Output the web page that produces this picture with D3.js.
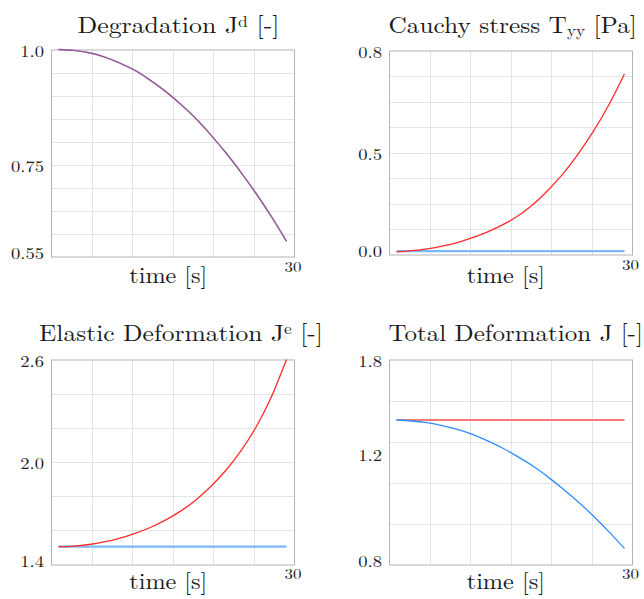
<!DOCTYPE html>
<html>
<head>
<meta charset="utf-8">
<script src="https://cdn.jsdelivr.net/npm/d3@7"></script>
<style>
  html, body { margin: 0; padding: 0; background: #fff; overflow: hidden; }
  svg { display: block; }
</style>
</head>
<body>
<svg id="chart" width="644" height="599"></svg>
<script>
// ---- data -------------------------------------------------------------
const time = [0, 2, 4, 6, 8, 10, 12, 14, 16, 18, 20, 22, 24, 26, 28, 30];

// degradation J^d (both cases follow the same curve)
const degradationRed  = [1.000, 0.998, 0.993, 0.984, 0.971, 0.955, 0.934, 0.910, 0.882, 0.851, 0.815, 0.776, 0.733, 0.687, 0.637, 0.583];
const degradationBlue = [1.000, 0.998, 0.993, 0.984, 0.971, 0.955, 0.934, 0.910, 0.882, 0.851, 0.815, 0.776, 0.733, 0.687, 0.637, 0.583];

// Cauchy stress T_yy [Pa]
const stressRed  = [0.010, 0.015, 0.022, 0.033, 0.047, 0.066, 0.089, 0.117, 0.152, 0.197, 0.254, 0.320, 0.399, 0.488, 0.590, 0.708];
const stressBlue = [0.013, 0.013, 0.013, 0.013, 0.013, 0.013, 0.013, 0.013, 0.013, 0.013, 0.013, 0.013, 0.013, 0.013, 0.013, 0.013];

// elastic deformation J^e
const elasticRed  = [1.505, 1.508, 1.517, 1.532, 1.553, 1.581, 1.615, 1.658, 1.711, 1.775, 1.855, 1.950, 2.065, 2.205, 2.380, 2.600];
const elasticBlue = [1.505, 1.505, 1.505, 1.505, 1.505, 1.505, 1.505, 1.505, 1.505, 1.505, 1.505, 1.505, 1.505, 1.505, 1.505, 1.505];

// total deformation J
const totalRed  = [1.505, 1.505, 1.505, 1.505, 1.505, 1.505, 1.505, 1.505, 1.505, 1.505, 1.505, 1.505, 1.505, 1.505, 1.505, 1.505];
const totalBlue = [1.505, 1.500, 1.492, 1.478, 1.459, 1.435, 1.403, 1.367, 1.325, 1.279, 1.225, 1.166, 1.102, 1.033, 0.958, 0.878];

// axis ranges and tick labels
const degradationRange = [0.55, 1.0];
const stressRange      = [0.0, 0.8];
const elasticRange     = [1.4, 2.6];
const totalRange       = [0.8, 1.8];

const degradationTickAt   = [0.55, 0.75, 1.0];
const degradationTickText = ["0.55", "0.75", "1.0"];
const stressTickAt        = [0.0, 0.4, 0.8];
const stressTickText      = ["0.0", "0.5", "0.8"];
const elasticTickAt       = [1.4, 2.0, 2.6];
const elasticTickText     = ["1.4", "2.0", "2.6"];
const totalTickAt         = [0.8, 1.34, 1.8];
const totalTickText       = ["0.8", "1.2", "1.8"];

const timeEndLabel = "30";
const timeAxisLabel = "time [s]";

// ---- styling ------------------------------------------------------------
const FONT = '"Latin Modern Roman", "Liberation Serif", serif';
const RED = "#ff2b2b";
const BLUE = "#2e8eff";
const RED_FLAT = "#f47a7a";
const BLUE_FLAT = "#7db8f6";

const svg = d3.select("#chart");

const panels = [
  {
    title: [{ t: "Degradation J" }, { t: "d", sup: true }, { t: " [-]" }],
    titleBox: [77.5, 279.5, 33.3],
    box: [51, 294, 49.5, 256.5],
    range: degradationRange, grid: 9,
    tickAt: degradationTickAt, tickText: degradationTickText,
    series: [
      { values: degradationBlue, color: BLUE, width: 1.4, opacity: 1 },
      { values: degradationRed, color: RED, width: 1.4, opacity: 0.55 }
    ],
    xLabel: [129.3, 207.3, 283.3], endLabel: [293, 271.5]
  },
  {
    title: [{ t: "Cauchy stress T" }, { t: "yy", sub: true }, { t: " [Pa]" }],
    titleBox: [388.5, 637, 32.5],
    box: [389, 632, 50.5, 254.5],
    range: stressRange, grid: 8,
    tickAt: stressTickAt, tickText: stressTickText,
    series: [
      { values: stressBlue, color: BLUE_FLAT, width: 2.2, opacity: 1 },
      { values: stressRed, color: RED, width: 1.3, opacity: 1 }
    ],
    xLabel: [466.7, 545, 283.3], endLabel: [630.5, 270]
  },
  {
    title: [{ t: "Elastic Deformation J" }, { t: "e", sup: true }, { t: " [-]" }],
    titleBox: [39, 323, 340.7],
    box: [51, 294, 359.5, 564.5],
    range: elasticRange, grid: 6,
    tickAt: elasticTickAt, tickText: elasticTickText,
    series: [
      { values: elasticBlue, color: BLUE_FLAT, width: 2.2, opacity: 1 },
      { values: elasticRed, color: RED, width: 1.3, opacity: 1 }
    ],
    xLabel: [129.3, 207.3, 589.3], endLabel: [293, 579]
  },
  {
    title: [{ t: "Total Deformation J [-]" }],
    titleBox: [388.5, 643, 340.7],
    box: [389, 632, 359.5, 564.5],
    range: totalRange, grid: 5,
    tickAt: totalTickAt, tickText: totalTickText,
    series: [
      { values: totalRed, color: RED_FLAT, width: 2.2, opacity: 1 },
      { values: totalBlue, color: BLUE, width: 1.3, opacity: 1 }
    ],
    xLabel: [466.7, 545, 589.3], endLabel: [630.5, 578.5]
  }
];

function addText(parent, size) {
  return parent.append("text")
    .style("font-family", FONT)
    .style("white-space", "pre")
    .attr("fill", "#1a1a1a")
    .attr("font-size", size);
}

// place a text at (x, baseline) and stretch it horizontally to span [x0, x1]
function fitText(node, x0, x1, baseline) {
  const w = node.getBBox().width;
  const sx = (x1 - x0) / w;
  d3.select(node).attr("transform", `translate(${x0},${baseline}) scale(${sx},1)`);
}

// horizontal stretch for a given font size so that a sample string gets a set width
function stretchFor(sample, size, width) {
  const probe = addText(svg, size).text(sample);
  const w = probe.node().getBBox().width;
  probe.remove();
  return width / w;
}

const TICK_FS = 16;
const tickStretch = stretchFor("0.75", TICK_FS, 33);
const END_FS = 14;
const endStretch = stretchFor("30", END_FS, 17);

panels.forEach(p => {
  const [left, right, top, bottom] = p.box;
  const g = svg.append("g");

  const x = d3.scaleLinear().domain([time[0], time[time.length - 1]]).range([left + 7.5, right - 7.5]);
  const y = d3.scaleLinear().domain(p.range).range([bottom, top]);
  const xGrid = d3.scaleLinear().domain([0, 6]).range([left, right]);
  const yGrid = d3.scaleLinear().domain([0, p.grid]).range([bottom, top]);

  // grid
  g.append("g").selectAll("line").data(d3.range(1, 6)).join("line")
    .attr("x1", d => Math.round(xGrid(d)) + 0.5).attr("x2", d => Math.round(xGrid(d)) + 0.5)
    .attr("y1", top).attr("y2", bottom)
    .attr("stroke", "#e4e4e4").attr("stroke-width", 1);
  g.append("g").selectAll("line").data(d3.range(1, p.grid)).join("line")
    .attr("y1", d => Math.round(yGrid(d)) + 0.5).attr("y2", d => Math.round(yGrid(d)) + 0.5)
    .attr("x1", left).attr("x2", right)
    .attr("stroke", "#e4e4e4").attr("stroke-width", 1);

  // frame
  g.append("rect")
    .attr("x", left + 0.5).attr("y", top + 0.5)
    .attr("width", right - left).attr("height", bottom - top)
    .attr("fill", "none").attr("stroke", "#b3b3b3").attr("stroke-width", 1);

  // curves
  const line = d3.line().x((d, i) => x(time[i])).y(d => y(d)).curve(d3.curveNatural);
  p.series.forEach(s => {
    g.append("path")
      .attr("d", line(s.values))
      .attr("fill", "none")
      .attr("stroke", s.color)
      .attr("stroke-width", s.width)
      .attr("stroke-opacity", s.opacity);
  });

  // y tick labels
  p.tickAt.forEach((v, i) => {
    let cy = y(v);
    if (i === 0) cy = bottom - 3;
    else if (i === p.tickAt.length - 1) cy = top + 2.5;
    else cy = cy + 2;
    addText(g, TICK_FS)
      .attr("text-anchor", "end")
      .attr("transform", `translate(${left - 7},${cy + 0.33 * TICK_FS}) scale(${tickStretch},1)`)
      .text(p.tickText[i]);
  });

  // end-of-axis time label
  addText(g, END_FS)
    .attr("text-anchor", "middle")
    .attr("transform", `translate(${p.endLabel[0]},${p.endLabel[1]}) scale(${endStretch},1)`)
    .text(timeEndLabel);

  // axis label
  const xl = addText(g, 22).text(timeAxisLabel);
  fitText(xl.node(), p.xLabel[0], p.xLabel[1], p.xLabel[2]);

  // title
  const tt = addText(g, 23.5);
  p.title.forEach((part, k) => {
    const ts = tt.append("tspan").text(part.t);
    if (part.sup) ts.attr("font-size", 16).attr("dy", -6.5);
    else if (part.sub) ts.attr("font-size", 16).attr("dy", 3);
    else if (k > 0) {
      const prev = p.title[k - 1];
      if (prev.sup) ts.attr("dy", 6.5);
      if (prev.sub) ts.attr("dy", -3);
    }
  });
  fitText(tt.node(), p.titleBox[0], p.titleBox[1], p.titleBox[2]);
});
</script>
</body>
</html>
